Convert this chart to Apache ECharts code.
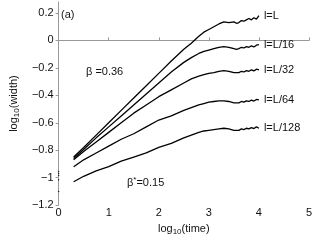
<!DOCTYPE html>
<html><head><meta charset="utf-8">
<script src="https://cdn.jsdelivr.net/npm/echarts@6/dist/echarts.min.js"></script>
<style>html,body{margin:0;padding:0;background:#fff}#c{width:316px;height:241px}</style>
</head><body><div id="c"></div>
<script>
// log10(time) sample positions
var logTime = [0.3,0.5,0.75,1,1.25,1.5,1.75,2,2.25,2.5,2.65,2.8,2.9,3.0,3.1,3.2,3.3,3.4,3.5,3.55,3.6,3.65,3.7,3.75,3.8,3.85,3.9,3.95,4.0];
var seriesNames = ['l=L','l=L/16','l=L/32','l=L/64','l=L/128'];
var wL    = [-0.85,-0.78,-0.69,-0.60,-0.51,-0.42,-0.33,-0.24,-0.15,-0.065,-0.02,0.03,0.06,0.08,0.10,0.12,0.135,0.13,0.135,0.125,0.13,0.145,0.14,0.15,0.16,0.15,0.165,0.155,0.18];
var wL16  = [-0.86,-0.795,-0.71,-0.63,-0.55,-0.47,-0.39,-0.31,-0.23,-0.16,-0.125,-0.095,-0.08,-0.07,-0.06,-0.05,-0.045,-0.05,-0.06,-0.065,-0.06,-0.05,-0.055,-0.045,-0.05,-0.04,-0.048,-0.035,-0.03];
var wL32  = [-0.87,-0.81,-0.74,-0.67,-0.60,-0.53,-0.47,-0.41,-0.36,-0.31,-0.28,-0.26,-0.25,-0.24,-0.235,-0.225,-0.22,-0.225,-0.235,-0.235,-0.235,-0.225,-0.23,-0.22,-0.225,-0.215,-0.222,-0.21,-0.215];
var wL64  = [-0.92,-0.87,-0.82,-0.77,-0.72,-0.68,-0.63,-0.58,-0.55,-0.51,-0.49,-0.47,-0.46,-0.45,-0.445,-0.44,-0.44,-0.445,-0.455,-0.455,-0.455,-0.445,-0.45,-0.44,-0.445,-0.435,-0.442,-0.43,-0.434];
var wL128 = [-1.03,-0.99,-0.95,-0.92,-0.88,-0.85,-0.82,-0.78,-0.75,-0.71,-0.69,-0.67,-0.66,-0.655,-0.65,-0.645,-0.64,-0.645,-0.655,-0.655,-0.655,-0.645,-0.65,-0.64,-0.645,-0.635,-0.642,-0.63,-0.64];
// first sample (time = 1, log10 = 0)
var firstX = 0;
var firstW = [-0.955,-0.97,-0.985,-1.015,-1.10];
var xTicks = [0,1,2,3,4,5];
var yTicks = [-1.2,-1,-0.8,-0.6,-0.4,-0.2,0,0.2];

var allW = [wL,wL16,wL32,wL64,wL128];
var font = 'Liberation Sans, Arial, sans-serif';
var chart = echarts.init(document.getElementById('c'));
var series = allW.map(function(w,i){
  return {
    name: seriesNames[i], type:'line', showSymbol:false, symbol:'none',
    data: logTime.map(function(x,j){return [x,w[j]];}),
    lineStyle:{color:'#000',width:1.3}, itemStyle:{color:'#000'},
    animation:false,
    endLabel:{show:true, formatter:function(p){return p.seriesName;}, distance:5, color:'#111', fontSize:11, fontFamily:font}
  };
});
series.push({
  type:'scatter', symbol:'circle', symbolSize:1.5, itemStyle:{color:'#000'}, animation:false,
  data: firstW.map(function(w){return [firstX,w];})
});
function fmt(v){ var s = (Math.round(v*10)/10).toString(); return s.replace('-','\u2212'); }
chart.setOption({
  backgroundColor:'#fff',
  animation:false,
  grid:{left:50,right:7,top:2,bottom:30},
  xAxis:{type:'value',min:0,max:5,interval:1,
    name:'log{s|10}(time)', nameLocation:'middle', nameGap:12,
    nameTextStyle:{color:'#111',fontSize:11,fontFamily:font,rich:{s:{fontSize:8,fontFamily:font,color:'#111',padding:[7,0,0,0]}}},
    axisLine:{lineStyle:{color:'#999',width:1}},
    axisTick:{inside:true,length:3,lineStyle:{color:'#999'}},
    axisLabel:{color:'#111',fontSize:11,fontFamily:font,margin:2,formatter:function(v){return xTicks.indexOf(v)>=0?String(v):'';}},
    splitLine:{show:false}},
  yAxis:{type:'value',min:-1.2,max:0.28,interval:0.2,offset:3,
    name:'log{s|10}(width)', nameLocation:'middle', nameGap:31, nameRotate:90,
    nameTextStyle:{color:'#111',fontSize:11,fontFamily:font,rich:{s:{fontSize:8,fontFamily:font,color:'#111',padding:[7,0,0,0]}}},
    axisLine:{show:true,lineStyle:{color:'#999',width:1}},
    axisTick:{show:true,inside:false,length:3,lineStyle:{color:'#999'}},
    axisLabel:{color:'#111',fontSize:11,fontFamily:font,margin:2,showMaxLabel:false,
      formatter:function(v){ for(var i=0;i<yTicks.length;i++){ if(Math.abs(yTicks[i]-v)<1e-6) return fmt(v);} return ''; }},
    splitLine:{show:false}},
  graphic:[
    {type:'text',left:61,top:9,style:{text:'(a)',fontSize:11,fontFamily:font,fill:'#111'}},
    {type:'text',left:86,top:66,style:{text:'\u03b2 =0.36',fontSize:11,fontFamily:font,fill:'#111'}},
    {type:'text',left:127,top:176,style:{text:'\u03b2{s|*}=0.15',fontSize:11,fontFamily:font,fill:'#111',rich:{s:{fontSize:8,fontFamily:font,fill:'#111',padding:[0,0,6,0]}}}}
  ],
  series:series
});
</script></body></html>
